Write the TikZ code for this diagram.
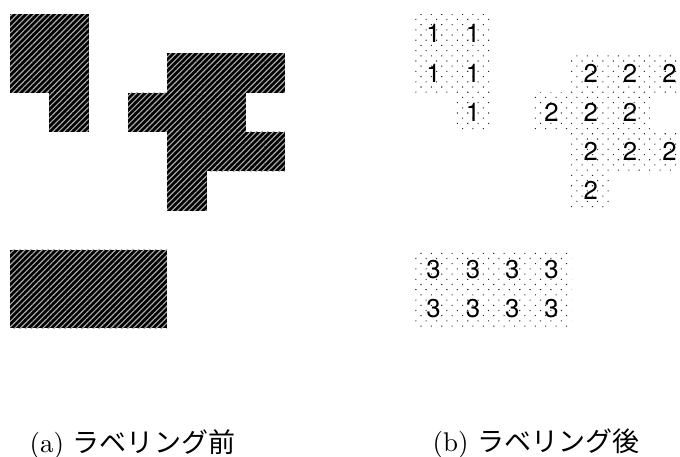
\documentclass[tikz,border=0pt]{standalone}
\usepackage{fontspec}
\setsansfont{TeX Gyre Heros}
\newfontfamily\jpfont{Noto Sans CJK JP}
\usetikzlibrary{patterns.meta}
\tikzset{
  blackcell/.style={preaction={fill=black},
    pattern={Lines[angle=45,distance=1.6pt,line width=0.45pt]},pattern color=gray!65},
  dotcell/.style={pattern={Dots[angle=45,distance=2.94pt,radius=0.3pt]},pattern color=black!85},
  digit/.style={inner sep=0pt,font=\sffamily\fontsize{10.3}{12}\selectfont},
  caption/.style={inner sep=0pt,anchor=west,font=\fontsize{10.8}{13}\selectfont},
}
\def\cs{39.3}
\begin{document}
\begin{tikzpicture}[x=0.4pt,y=-0.4pt]
  \useasboundingbox (0,0) rectangle (680,456);
  \clip (0,0) rectangle (680,456);
  % (a) before labelling
  \foreach \c/\r in {0/0,1/0,0/1,1/1,1/2,
                     4/1,5/1,6/1,3/2,4/2,5/2,4/3,5/3,6/3,4/4,
                     0/6,1/6,2/6,3/6,0/7,1/7,2/7,3/7}{
    \path[blackcell] ({10+\c*\cs},{14+\r*\cs}) rectangle ++(\cs,\cs);
  }
  % (b) after labelling
  \foreach \c/\r/\n in {0/0/1,1/0/1,0/1/1,1/1/1,1/2/1,
                        4/1/2,5/1/2,6/1/2,3/2/2,4/2/2,5/2/2,4/3/2,5/3/2,6/3/2,4/4/2,
                        0/6/3,1/6/3,2/6/3,3/6/3,0/7/3,1/7/3,2/7/3,3/7/3}{
    \path[dotcell] ({414+\c*\cs},{14+\r*\cs}) rectangle ++(\cs,\cs);
    \node[digit] (lab-\c-\r) at ({414+(\c+0.5)*\cs},{14+(\r+0.5)*\cs}) {\n};
  }
  % captions
  \node[caption] (capa) at (29,444) {(a) {\jpfont ラベリング前}};
  \node[caption] (capb) at (432,444) {(b) {\jpfont ラベリング後}};
\end{tikzpicture}
\end{document}
